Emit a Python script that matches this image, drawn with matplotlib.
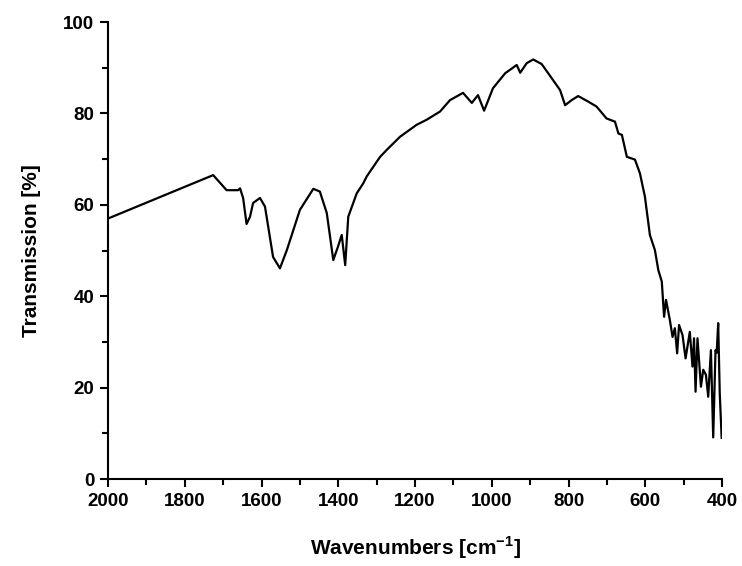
import numpy as np
import matplotlib
matplotlib.use('Agg')
import matplotlib.pyplot as plt
from matplotlib.ticker import MultipleLocator

plt.rcParams['font.family'] = ['Liberation Sans', 'DejaVu Sans']
plt.rcParams['font.weight'] = 'bold'
plt.rcParams['mathtext.fontset'] = 'custom'
plt.rcParams['mathtext.rm'] = 'Liberation Sans:bold'
plt.rcParams['mathtext.bf'] = 'Liberation Sans:bold'

# IR spectrum
wavenumber = [2000, 1726, 1691, 1661, 1656, 1648, 1639, 1630, 1622, 1604, 1591,
              1570, 1552, 1534, 1500, 1465, 1448, 1430, 1413, 1401, 1391, 1382,
              1374, 1352, 1335, 1326, 1291, 1274, 1239, 1196, 1170, 1135, 1109,
              1075, 1052, 1036, 1020, 997, 965, 935, 926, 909, 892, 870, 848,
              822, 809, 792, 775, 749, 727, 701, 679, 670, 661, 648, 627, 614,
              601, 588, 575, 566, 557, 551, 546, 536, 529, 523, 517, 512, 503,
              495, 484, 477, 473, 469, 464, 455, 449, 442, 436, 429, 423, 417,
              414, 410, 406, 401]
transmission = [57.0, 66.5, 63.2, 63.2, 63.6, 61.5, 55.8, 57.4, 60.4, 61.5, 59.6,
                48.6, 46.1, 50.1, 58.9, 63.5, 62.9, 58.2, 47.9, 50.8, 53.4, 46.8,
                57.4, 62.5, 64.7, 66.2, 70.5, 72.0, 74.9, 77.5, 78.6, 80.4, 82.9,
                84.5, 82.3, 84.0, 80.6, 85.5, 88.8, 90.6, 88.9, 91.0, 91.8, 90.8,
                88.2, 85.1, 81.8, 82.9, 83.8, 82.6, 81.5, 78.9, 78.2, 75.6, 75.3,
                70.5, 69.9, 66.9, 61.8, 53.4, 50.1, 45.7, 43.2, 35.5, 39.2, 34.8,
                31.1, 33.0, 27.5, 33.7, 31.5, 26.4, 32.2, 24.6, 30.8, 19.1, 30.8,
                20.2, 23.9, 22.8, 18.0, 28.2, 9.1, 28.2, 27.6, 34.1, 18.8, 9.0]

fig = plt.figure(figsize=(7.42, 5.66), dpi=100)
ax = fig.add_axes([0.1456, 0.1537, 0.8275, 0.8074])

ax.plot(wavenumber, transmission, color='black', lw=1.6)

ax.set_xlim(2000, 400)
ax.set_ylim(0, 100)
ax.xaxis.set_major_locator(MultipleLocator(200))
ax.xaxis.set_minor_locator(MultipleLocator(100))
ax.yaxis.set_major_locator(MultipleLocator(20))
ax.yaxis.set_minor_locator(MultipleLocator(10))

for s in ['top', 'right']:
    ax.spines[s].set_visible(False)
for s in ['left', 'bottom']:
    ax.spines[s].set_linewidth(1.5)

ax.tick_params(which='major', length=6, width=1.5, labelsize=13.5, direction='out', pad=4)
ax.tick_params(which='minor', length=4, width=1.5, direction='out')

ax.set_xlabel(r'Wavenumbers [cm$^{-1}$]', fontsize=15, fontweight='bold', labelpad=18)
ax.set_ylabel('Transmission [%]', fontsize=15, fontweight='bold', labelpad=16)

fig.savefig('out.png', dpi=100)
